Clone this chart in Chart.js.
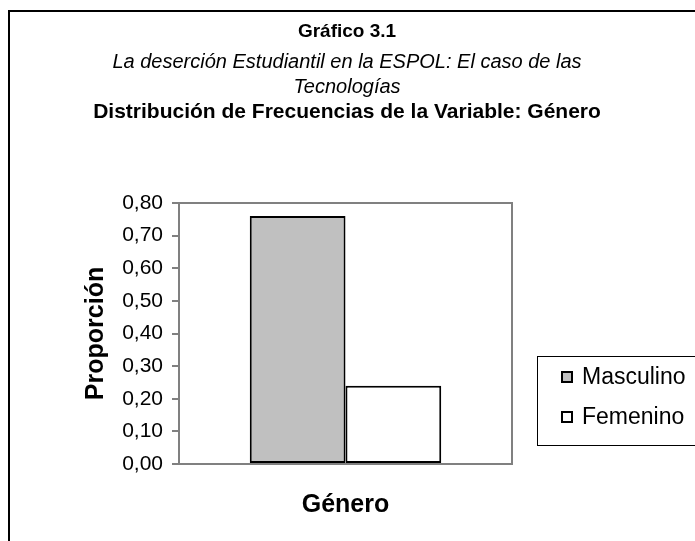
<!DOCTYPE html>
<html>
<head>
<meta charset="utf-8">
<script src="https://cdn.jsdelivr.net/npm/chart.js@4.4.1/dist/chart.umd.min.js"></script>
<style>
  body { margin: 0; background: #fff; }
  #wrap { width: 695px; height: 541px; position: relative; }
</style>
</head>
<body>
<div id="wrap"><canvas id="myChart"></canvas></div>
<script>
// datos
const categories = [""];
const seriesNames = ["Masculino", "Femenino"];
const masculino = [0.76];
const femenino = [0.24];
const seriesColors = ["#c0c0c0", "#ffffff"];
const titleLines = [
  "Gráfico 3.1",
  "La deserción Estudiantil en la ESPOL: El caso de las",
  "Tecnologías",
  "Distribución de Frecuencias de la Variable: Género"
];

const FONT = "'Liberation Sans', Arial, sans-serif";

// marco, titulos, borde del area y leyenda
const decoPlugin = {
  id: "deco",
  beforeDatasetsDraw(chart) {
    const ctx = chart.ctx;
    const a = chart.chartArea;
    ctx.save();
    ctx.strokeStyle = "#808080";
    ctx.lineWidth = 2;
    ctx.strokeRect(a.left, a.top, a.right - a.left, a.bottom - a.top);
    ctx.restore();
  },
  afterDraw(chart) {
    const ctx = chart.ctx;
    ctx.save();
    // marco exterior
    ctx.strokeStyle = "#000";
    ctx.lineWidth = 2;
    ctx.beginPath();
    ctx.moveTo(9, 541);
    ctx.lineTo(9, 11);
    ctx.lineTo(695, 11);
    ctx.stroke();

    ctx.fillStyle = "#000";
    ctx.textAlign = "center";
    ctx.textBaseline = "middle";
    ctx.font = "bold 19px " + FONT;
    ctx.fillText(titleLines[0], 347, 32);
    ctx.font = "italic 20px " + FONT;
    ctx.fillText(titleLines[1], 347, 62);
    ctx.fillText(titleLines[2], 347, 87);
    ctx.font = "bold 21px " + FONT;
    ctx.fillText(titleLines[3], 347, 112);

    // leyenda
    ctx.lineWidth = 1;
    ctx.strokeRect(537.5, 356.5, 170, 89);
    ctx.textAlign = "left";
    ctx.font = "23px " + FONT;
    const ys = [377, 417];
    seriesNames.forEach((n, i) => {
      ctx.fillStyle = seriesColors[i];
      ctx.fillRect(562, ys[i] - 5, 10, 10);
      ctx.lineWidth = 2;
      ctx.strokeStyle = "#000";
      ctx.strokeRect(562, ys[i] - 5, 10, 10);
      ctx.fillStyle = "#000";
      ctx.fillText(n, 582, ys[i] + 1);
    });
    ctx.restore();
  }
};

new Chart(document.getElementById("myChart"), {
  type: "bar",
  data: {
    labels: categories,
    datasets: [
      { label: seriesNames[0], data: masculino, backgroundColor: seriesColors[0],
        borderColor: "#000", borderWidth: 2, borderSkipped: false },
      { label: seriesNames[1], data: femenino, backgroundColor: seriesColors[1],
        borderColor: "#000", borderWidth: 2, borderSkipped: false }
    ]
  },
  options: {
    responsive: true,
    maintainAspectRatio: false,
    animation: false,
    layout: { padding: { left: 81, right: 183, top: 203, bottom: 0 } },
    datasets: { bar: { categoryPercentage: 0.575, barPercentage: 1 } },
    plugins: { legend: { display: false }, tooltip: { enabled: false } },
    scales: {
      x: {
        grid: { display: false },
        border: { display: false },
        ticks: { display: false },
        title: { display: true, text: "Género", color: "#000",
                 font: { family: FONT, size: 25, weight: "bold" }, padding: { top: 0, bottom: 21 } },
        afterFit(s) { s.height = 77; }
      },
      y: {
        min: 0, max: 0.8,
        border: { display: false },
        grid: { drawOnChartArea: false, tickLength: 7, color: "#808080", lineWidth: 2 },
        ticks: {
          stepSize: 0.1, padding: 9, color: "#000",
          font: { family: FONT, size: 21 },
          callback: v => v.toFixed(2).replace(".", ",")
        },
        title: { display: true, text: "Proporción", color: "#000",
                 font: { family: FONT, size: 25, weight: "bold" }, padding: 0 },
        afterFit(s) { s.width = 98; }
      }
    }
  },
  plugins: [decoPlugin]
});
</script>
</body>
</html>
